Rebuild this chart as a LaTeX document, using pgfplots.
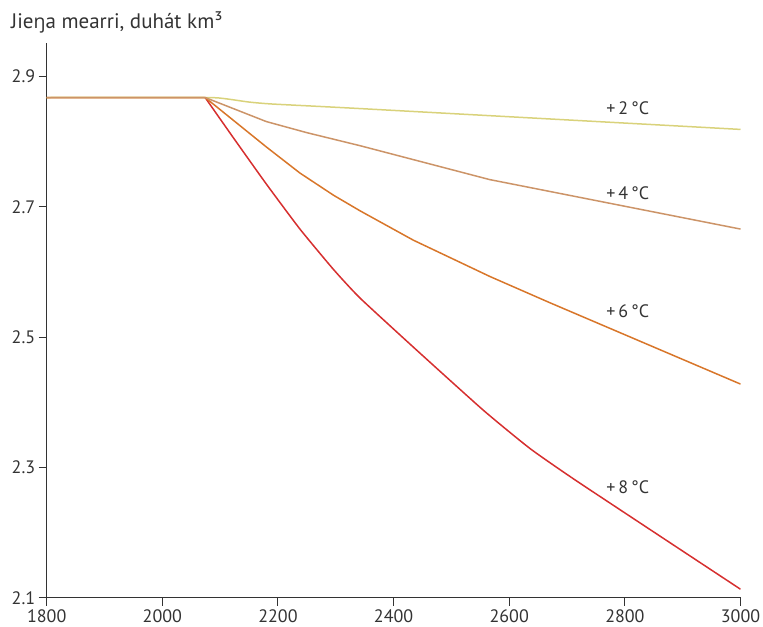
\documentclass[border=0pt]{standalone}
\usepackage{pgfplots}
\pgfplotsset{compat=1.18}
\usepackage{fontspec}
\setmainfont{PT Sans}
\newfontfamily\engfont{Open Sans}
\definecolor{cyel}{HTML}{D9D27B}
\definecolor{ctan}{HTML}{CC9468}
\definecolor{cora}{HTML}{D8762A}
\definecolor{cred}{HTML}{D62F2F}
\definecolor{axisgray}{HTML}{333333}
\definecolor{txtgray}{HTML}{333333}
\begin{document}
\begin{tikzpicture}
\useasboundingbox (-46.7bp,-29.3bp) rectangle (716.3bp,597.7bp);
\begin{axis}[
  at={(0,0)}, anchor=south west,
  scale only axis, width=693.8bp, height=554.7bp,
  xmin=1800, xmax=3000, ymin=2.1, ymax=2.9517,
  axis x line*=bottom, axis y line*=left,
  axis line style={line width=1bp, color=axisgray, -},
  xtick={1800,2000,2200,2400,2600,2800,3000},
  ytick={2.1,2.3,2.5,2.7,2.9},
  tick align=outside, major tick length=8bp,
  tick style={line width=1bp, color=axisgray},
  /pgf/number format/assume math mode=true,
  x tick label style={/pgf/number format/1000 sep={}, font=\fontsize{18bp}{20bp}\selectfont, text=txtgray},
  y tick label style={/pgf/number format/.cd, fixed, fixed zerofill, precision=1, /tikz/.cd, font=\fontsize{18bp}{20bp}\selectfont, text=txtgray},
  every axis plot/.append style={line width=1.5bp},
]
\addplot[cyel, smooth, tension=0.3] coordinates {(1800,2.868) (2074,2.868) (2110,2.866) (2150,2.861) (2190,2.858) (2342,2.851) (3000,2.819)};
\addplot[cred, smooth, tension=0.3] coordinates {(2074,2.868) (2123,2.806) (2180,2.735) (2238,2.666) (2296,2.604) (2342,2.560) (2440,2.480) (2555,2.388) (2636,2.329) (2722,2.276) (3000,2.113)};
\addplot[cora] coordinates {(1800,2.868) (2074,2.868) (2180,2.792) (2238,2.752) (2296,2.718) (2342,2.694) (2434,2.649) (2567,2.593) (2670,2.553) (3000,2.428)};
\addplot[ctan] coordinates {(1800,2.868) (2074,2.868) (2180,2.831) (2250,2.814) (2342,2.794) (2566,2.742) (2800,2.701) (3000,2.666)};
\node[text=txtgray, font=\fontsize{18bp}{20bp}\selectfont] at (axis cs:2805,2.852) {+\,2\,°C};
\node[text=txtgray, font=\fontsize{18bp}{20bp}\selectfont] at (axis cs:2805,2.721) {+\,4\,°C};
\node[text=txtgray, font=\fontsize{18bp}{20bp}\selectfont] at (axis cs:2805,2.540) {+\,6\,°C};
\node[text=txtgray, font=\fontsize{18bp}{20bp}\selectfont] at (axis cs:2805,2.270) {+\,8\,°C};
\end{axis}
\node[anchor=base west, inner sep=0pt, text=txtgray, font=\fontsize{21bp}{23bp}\selectfont] at (-35.7bp,568.7bp) {Jie{\engfont\fontsize{19.5bp}{23bp}\selectfont ŋ}a mearri, duhát km³};
\end{tikzpicture}
\end{document}
